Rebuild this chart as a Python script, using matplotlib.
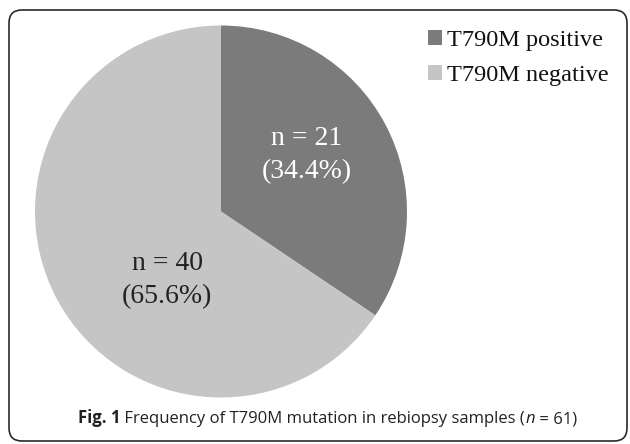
import matplotlib
matplotlib.use("Agg")
import matplotlib.pyplot as plt
from matplotlib.patches import FancyBboxPatch, Patch

categories = ["T790M positive", "T790M negative"]
counts = [21, 40]
percents = [34.4, 65.6]
colors = ["#7b7b7b", "#c4c5c4"]
total_n = 61

W, H = 630, 444
fig = plt.figure(figsize=(W / 100, H / 100), dpi=100)

# background axes in pixel units for the rounded frame
bg = fig.add_axes([0, 0, 1, 1])
bg.set_xlim(0, W)
bg.set_ylim(H, 0)
bg.axis("off")
frame = FancyBboxPatch((9, 10), 618, 431,
                       boxstyle="round,pad=0,rounding_size=13",
                       fill=False, edgecolor="#2a2a2a", linewidth=1.2)
bg.add_patch(frame)

cx, cy, r = 221, 211.5, 186
ax = fig.add_axes([(cx - r) / W, (H - cy - r) / H, 2 * r / W, 2 * r / H])
ax.pie(counts, colors=colors, startangle=90, counterclock=False,
       wedgeprops=dict(linewidth=0))
ax.set_xlim(-1, 1)
ax.set_ylim(-1, 1)
ax.set_aspect("equal")
ax.axis("off")

serif = "Liberation Serif"
ax.text((307 - cx) / r, (cy - 155) / r, f"n = {counts[0]}\n({percents[0]}%)",
        ha="center", va="center", color="white", fontsize=20, family=serif,
        linespacing=1.38)
ax.text((167 - cx) / r, (cy - 280) / r, f"n = {counts[1]}\n({percents[1]}%)",
        ha="center", va="center", color="#222222", fontsize=20, family=serif,
        linespacing=1.38)

handles = [Patch(facecolor=c, edgecolor="none") for c in colors]
fig.legend(handles, categories, loc="upper left", bbox_to_anchor=(428 / W, 1 - 30 / H),
           frameon=False, prop=dict(family=serif, size=17.5), handlelength=0.58,
           handleheight=0.58, handletextpad=0.22, labelspacing=0.55, borderaxespad=0,
           borderpad=0, labelcolor="#111111")

# caption built from consecutive pieces
pieces = [("Fig. 1", "bold", "normal"),
          (" Frequency of T790M mutation in rebiopsy samples (", "normal", "normal"),
          ("n", "normal", "italic"),
          (f" = {total_n})", "normal", "normal")]
fig.canvas.draw()
renderer = fig.canvas.get_renderer()
x = 78
for txt, weight, style in pieces:
    t = fig.text(x / W, 1 - 423 / H, txt, fontsize=12.0, family="Open Sans",
                 fontweight=weight, fontstyle=style, va="baseline", ha="left",
                 color="#222222")
    bb = t.get_window_extent(renderer)
    x += bb.width

fig.savefig("out.png", dpi=100)
